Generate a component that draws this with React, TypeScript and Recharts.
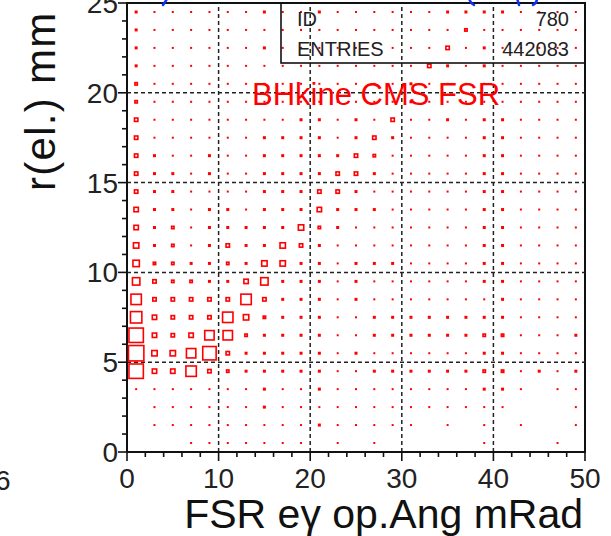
import React from 'react';
import { ScatterChart, Scatter, XAxis, YAxis, ReferenceLine, ReferenceArea } from 'recharts';

// Bin centres (2 mRad wide in x, 1 mm high in y)
const xBinCenters = [1, 3, 5, 7, 9, 11, 13, 15, 17, 19, 21, 23, 25, 27, 29, 31, 33, 35, 37, 39, 41, 43, 45, 47, 49];
const yBinCenters = [24.5, 23.5, 22.5, 21.5, 20.5, 19.5, 18.5, 17.5, 16.5, 15.5, 14.5, 13.5, 12.5, 11.5, 10.5, 9.5, 8.5, 7.5, 6.5, 5.5, 4.5, 3.5, 2.5, 1.5, 0.5];

// Relative bin contents (box side proportional), rows from top (24.5) to bottom (0.5)
const counts = [
  [3, 2, 2, 2, 2, 2, 2, 3, 2, 2, 3, 2, 2, 2, 2, 2, 2, 3, 3, 3, 3, 2, 2, 2, 2],
  [3, 2, 2, 2, 2, 2, 2, 2, 2, 2, 2, 2, 2, 2, 2, 2, 2, 2, 4, 2, 2, 2, 2, 2, 2],
  [3, 2, 2, 2, 2, 2, 2, 3, 2, 2, 2, 2, 2, 2, 2, 2, 2, 5, 2, 3, 2, 2, 2, 2, 2],
  [3, 2, 2, 2, 2, 2, 2, 2, 2, 2, 2, 2, 2, 2, 2, 2, 5, 3, 2, 3, 2, 2, 2, 2, 2],
  [4, 2, 2, 2, 2, 2, 2, 2, 2, 2, 2, 2, 2, 2, 2, 3, 2, 2, 2, 2, 2, 2, 2, 2, 2],
  [4, 2, 2, 2, 2, 2, 2, 2, 2, 2, 2, 2, 2, 2, 2, 3, 2, 2, 2, 2, 2, 2, 2, 2, 2],
  [5, 2, 2, 2, 2, 2, 2, 2, 2, 3, 3, 2, 3, 2, 5, 2, 2, 3, 2, 3, 3, 2, 2, 2, 2],
  [5, 2, 2, 2, 2, 2, 2, 3, 3, 3, 3, 2, 3, 5, 3, 2, 2, 2, 2, 3, 3, 2, 2, 2, 2],
  [5, 3, 2, 2, 3, 2, 2, 3, 3, 3, 3, 3, 5, 4, 2, 2, 2, 2, 2, 3, 3, 2, 2, 2, 2],
  [5, 3, 3, 2, 3, 2, 2, 3, 3, 3, 3, 5, 5, 3, 2, 2, 2, 2, 2, 3, 3, 2, 2, 2, 2],
  [5, 3, 3, 2, 2, 2, 2, 3, 3, 3, 5, 5, 3, 2, 2, 2, 2, 2, 2, 3, 3, 2, 2, 2, 2],
  [6, 3, 3, 2, 3, 3, 2, 3, 3, 3, 6, 3, 3, 3, 2, 2, 2, 2, 2, 3, 3, 2, 2, 2, 2],
  [6, 3, 4, 2, 3, 3, 3, 3, 3, 7, 4, 3, 2, 2, 2, 2, 2, 2, 2, 3, 3, 2, 2, 2, 2],
  [7, 3, 4, 2, 3, 5, 3, 3, 7, 5, 3, 2, 2, 2, 2, 2, 2, 2, 2, 3, 3, 2, 2, 2, 2],
  [8, 4, 4, 3, 3, 4, 3, 7, 7, 3, 3, 2, 3, 3, 3, 2, 2, 2, 2, 3, 3, 2, 2, 2, 2],
  [9, 5, 4, 4, 3, 3, 6, 9, 3, 3, 3, 2, 3, 2, 2, 2, 2, 2, 2, 3, 3, 2, 2, 2, 2],
  [12, 5, 5, 5, 5, 5, 12, 5, 3, 3, 3, 2, 3, 2, 2, 2, 2, 2, 2, 2, 3, 2, 2, 2, 2],
  [13, 6, 5, 5, 5, 12, 7, 4, 3, 3, 3, 2, 2, 3, 3, 3, 3, 3, 3, 3, 3, 2, 2, 2, 2],
  [16, 6, 5, 6, 11, 11, 4, 3, 3, 3, 3, 2, 2, 3, 3, 3, 3, 3, 3, 4, 4, 2, 2, 2, 3],
  [17, 7, 7, 11, 15, 5, 3, 3, 3, 3, 3, 2, 3, 2, 2, 2, 2, 2, 2, 3, 3, 2, 2, 2, 2],
  [16, 6, 6, 12, 5, 4, 3, 3, 3, 3, 3, 2, 2, 3, 3, 3, 3, 3, 3, 4, 4, 2, 3, 2, 3],
  [2, 2, 2, 2, 2, 2, 2, 3, 2, 2, 3, 2, 2, 2, 2, 2, 2, 2, 2, 3, 3, 2, 0, 2, 2],
  [0, 2, 2, 2, 2, 2, 2, 3, 2, 2, 2, 2, 2, 2, 2, 2, 2, 2, 2, 2, 2, 0, 0, 0, 2],
  [0, 2, 2, 2, 2, 2, 2, 2, 2, 2, 3, 2, 2, 2, 2, 2, 0, 2, 0, 2, 0, 2, 0, 0, 2],
  [0, 0, 0, 2, 2, 2, 2, 2, 2, 2, 0, 2, 0, 2, 0, 0, 0, 0, 0, 2, 0, 0, 0, 2, 0],
];

const xTicks = [0, 2, 4, 6, 8, 10, 12, 14, 16, 18, 20, 22, 24, 26, 28, 30, 32, 34, 36, 38, 40, 42, 44, 46, 48, 50];
const yTicks = [0, 1, 2, 3, 4, 5, 6, 7, 8, 9, 10, 11, 12, 13, 14, 15, 16, 17, 18, 19, 20, 21, 22, 23, 24, 25];
const xGridLines = [10, 20, 30, 40];
const yGridLines = [5, 10, 15, 20];
const statsLabels = ['ID', 'ENTRIES'];
const statsValues = ['780', '442083'];
const histTitle = 'BHkine CMS FSR';
const xTitle = 'FSR e\u03b3 op.Ang mRad';
const yTitle = 'r(el.) mm';

const FONT = '"Liberation Sans", Arial, sans-serif';
const RED = '#ff0000';

const data: { x: number; y: number; v: number }[] = [];
yBinCenters.forEach((y, r) => {
  xBinCenters.forEach((x, c) => {
    const v = counts[r][c];
    if (v > 0) data.push({ x, y, v });
  });
});
const maxCount = Math.max(...counts.map((row) => Math.max(...row)));
const MAX_SIDE = 17;

const BoxShape = (props: any) => {
  const { cx, cy, payload } = props;
  if (cx == null || cy == null) return <g />;
  const s = (payload.v / maxCount) * MAX_SIDE;
  if (s < 3.6) {
    return <rect x={cx - s / 2} y={cy - s / 2} width={s} height={s} fill={RED} />;
  }
  const sw = 1.6;
  return (
    <rect
      x={cx - s / 2 + sw / 2}
      y={cy - s / 2 + sw / 2}
      width={s - sw}
      height={s - sw}
      fill="none"
      stroke={RED}
      strokeWidth={sw}
    />
  );
};

const XTick = (props: any) => {
  const { x, y, payload } = props;
  const v = payload.value;
  const major = v % 10 === 0;
  return (
    <g>
      <line x1={x} x2={x} y1={y} y2={y + (major ? 9 : 5)} stroke="#111" strokeWidth={1.6} />
      {major && (
        <text x={x} y={y + 36} textAnchor="middle" fontSize={28} fontFamily={FONT} fill="#222">
          {v}
        </text>
      )}
    </g>
  );
};

const YTick = (props: any) => {
  const { x, y, payload } = props;
  const v = payload.value;
  const major = v % 5 === 0;
  return (
    <g>
      <line x1={x} x2={x - (major ? 9 : 5)} y1={y} y2={y} stroke="#111" strokeWidth={1.6} />
      {major && (
        <text x={x - 9} y={y + 10} textAnchor="end" fontSize={28} fontFamily={FONT} fill="#222">
          {v}
        </text>
      )}
    </g>
  );
};

export default function App() {
  return (
    <div
      style={{
        position: 'absolute',
        left: 0,
        top: 0,
        width: 611,
        height: 536,
        background: '#fff',
        overflow: 'hidden',
      }}
    >
      <ScatterChart width={611} height={536} margin={{ top: 3, right: 26, bottom: 0, left: 0 }}>
        <XAxis
          type="number"
          dataKey="x"
          domain={[0, 50]}
          ticks={xTicks}
          interval={0}
          tickSize={0}
          tickMargin={0}
          height={84}
          tick={<XTick />}
          axisLine={{ stroke: '#111', strokeWidth: 2 }}
          tickLine={false}
        />
        <YAxis
          type="number"
          dataKey="y"
          domain={[0, 25]}
          ticks={yTicks}
          interval={0}
          tickSize={0}
          tickMargin={0}
          width={127}
          tick={<YTick />}
          axisLine={{ stroke: '#111', strokeWidth: 2 }}
          tickLine={false}
        />
        {xGridLines.map((g) => (
          <ReferenceLine key={'gx' + g} x={g} stroke="#222" strokeWidth={1.5} strokeDasharray="4 3" />
        ))}
        {yGridLines.map((g) => (
          <ReferenceLine key={'gy' + g} y={g} stroke="#222" strokeWidth={1.5} strokeDasharray="4 3" />
        ))}
        <ReferenceArea x1={0} x2={50} y1={0} y2={25} fill="none" stroke="#111" strokeWidth={2} />
        <Scatter data={data} shape={<BoxShape />} isAnimationActive={false} />
      </ScatterChart>
      <svg
        width={611}
        height={536}
        style={{ position: 'absolute', left: 0, top: 0, pointerEvents: 'none' }}
      >
        <rect x={281} y={3} width={304} height={60} fill="none" stroke="#111" strokeWidth={1.6} />
        {statsLabels.map((t, i) => (
          <text key={t} x={297} y={26 + i * 30} fontSize={20} fontFamily={FONT} fill="#222">
            {t}
          </text>
        ))}
        {statsValues.map((t, i) => (
          <text key={t} x={569} y={26 + i * 30} textAnchor="end" fontSize={20} fontFamily={FONT} fill="#222">
            {t}
          </text>
        ))}
        <text x={252} y={105} fontSize={31} fontFamily={FONT} fill={RED}>
          {histTitle}
        </text>
        <text x={583} y={528} textAnchor="end" fontSize={41} fontFamily={FONT} fill="#111">
          {xTitle}
        </text>
        <text
          transform="translate(55,191) rotate(-90)"
          fontSize={42}
          letterSpacing={1.3}
          fontFamily={FONT}
          fill="#111"
        >
          {yTitle}
        </text>
        <text x={-5} y={490} fontSize={28} fontFamily={FONT} fill="#222">
          6
        </text>
        <g stroke="#1030ff" strokeWidth={2.5} fill="none" strokeLinecap="round">
          <line x1={163} y1={5} x2={167} y2={-1} />
          <path d="M 469 -2 Q 470 3 474 5" />
          <path d="M 517 -2 L 519 5" />
          <path d="M 537 -2 Q 537 3 533 5" />
        </g>
      </svg>
    </div>
  );
}
